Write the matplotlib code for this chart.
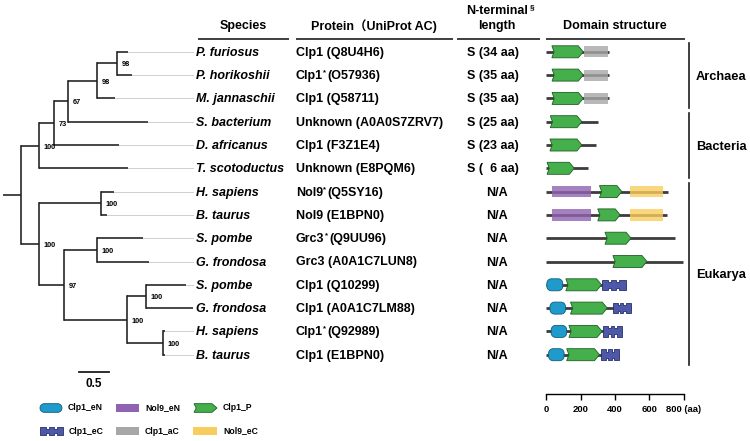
import matplotlib
matplotlib.use("Agg")
import matplotlib.pyplot as plt
from matplotlib.patches import Polygon
import numpy as np

plt.rcParams['font.family'] = ['Liberation Sans', 'DejaVu Sans']
plt.rcParams['font.weight'] = 'bold'

W, H = 750, 441

# ---------------- data ----------------
species = ["P. furiosus", "P. horikoshii", "M. jannaschii", "S. bacterium",
           "D. africanus", "T. scotoductus", "H. sapiens", "B. taurus",
           "S. pombe", "G. frondosa", "S. pombe", "G. frondosa",
           "H. sapiens", "B. taurus"]
protein_names = ["Clp1", "Clp1", "Clp1", "Unknown", "Clp1", "Unknown", "Nol9",
                 "Nol9", "Grc3", "Grc3", "Clp1", "Clp1", "Clp1", "Clp1"]
protein_acs = ["Q8U4H6", "O57936", "Q58711", "A0A0S7ZRV7", "F3Z1E4", "E8PQM6",
               "Q5SY16", "E1BPN0", "Q9UU96", "A0A1C7LUN8", "Q10299",
               "A0A1C7LM88", "Q92989", "E1BPN0"]
protein_star = [False, True, False, False, False, False, True, False, True,
                False, False, False, True, False]
nterm_len = ["S (34 aa)", "S (35 aa)", "S (35 aa)", "S (25 aa)", "S (23 aa)",
             "S (  6 aa)", "N/A", "N/A", "N/A", "N/A", "N/A", "N/A", "N/A", "N/A"]

protein_len = [365, 365, 365, 303, 290, 245, 710, 700, 745, 795, 463, 490, 440, 425]

dom_row = [0, 0, 1, 1, 2, 2, 3, 4, 5,
           6, 6, 6, 7, 7, 7, 8, 9,
           10, 10, 10, 11, 11, 11, 12, 12, 12, 13, 13, 13]
dom_type = ["P", "aC", "P", "aC", "P", "aC", "P", "P", "P",
            "Nol9_eN", "P", "Nol9_eC", "Nol9_eN", "P", "Nol9_eC", "P", "P",
            "eN", "P", "eC", "eN", "P", "eC", "eN", "P", "eC", "eN", "P", "eC"]
dom_start = [34, 220, 35, 220, 35, 220, 25, 23, 6,
             35, 310, 485, 35, 300, 485, 342, 388,
             5, 115, 325, 23, 142, 388, 30, 133, 330, 15, 120, 318]
dom_end = [216, 360, 216, 360, 216, 360, 208, 208, 164,
           260, 440, 680, 260, 430, 680, 493, 585,
           97, 322, 463, 113, 355, 490, 120, 325, 440, 105, 310, 425]

# tree: (name, branch length, bootstrap, children); ints are leaf rows
leaf_branch = [0.183, 0.25, 0.30, 1.333, 1.083, 1.483, 0.217, 0.10,
               0.767, 0.867, 0.667, 0.783, 0.033, 0.033]
tree = ('root', 0.30, None, [
    ('arch_bact', 0.30, 100, [
        ('n73', 0.25, 73, [
            ('n67', 0.233, 67, [
                ('n98b', 0.483, 98, [
                    ('n98a', 0.333, 98, [0, 1]),
                    2]),
                3]),
            4]),
        5]),
    ('euk', 0.30, 100, [
        ('nol9', 1.033, 100, [6, 7]),
        ('grc3_clp1', 0.417, 97, [
            ('grc3', 0.55, 100, [8, 9]),
            ('clp1', 1.05, 100, [
                ('fungi', 0.317, 100, [10, 11]),
                ('mammal', 0.60, 100, [12, 13])])])])])

groups = ["Archaea", "Bacteria", "Eukarya"]
group_rows = [(0, 2), (3, 5), (6, 13)]

scale_len = 0.5
domain_ticks = [0, 200, 400, 600, 800]
domain_ticklabels = ["0", "200", "400", "600", "800 (aa)"]

# ---------------- layout helpers ----------------
ROW0, STEP = 51.8, 23.3
def row_px(r):
    return ROW0 + STEP * r

def px_to_row(y):
    return (y - ROW0) / STEP

fig = plt.figure(figsize=(W / 100, H / 100), dpi=100)
base = fig.add_axes([0, 0, 1, 1])
base.set_xlim(0, W)
base.set_ylim(H, 0)
base.axis('off')

top_px, bot_px = 40, 394
ylim_rows = (px_to_row(bot_px), px_to_row(top_px))

def sub_axes(x0, x1):
    a = fig.add_axes([x0 / W, (H - bot_px) / H, (x1 - x0) / W, (bot_px - top_px) / H])
    a.patch.set_alpha(0)
    a.set_ylim(*ylim_rows)
    return a

# ---------------- tree ----------------
PX_PER_UNIT = 60.0
axt = sub_axes(3, 195)
axt.set_xlim(0, 192 / PX_PER_UNIT)
axt.axis('off')
tree_col = '#1e1e1e'
tree_lw = 1.15
ext_x = (193 - 3) / PX_PER_UNIT

def draw_node(node, xp):
    if isinstance(node, int):
        xe = xp + leaf_branch[node]
        axt.plot([xp, xe], [node, node], color=tree_col, lw=tree_lw, solid_capstyle='butt')
        axt.plot([xe, ext_x], [node, node], color='#cfcfcf', lw=0.7, zorder=0)
        return node
    name, bl, boot, children = node
    x = xp + bl
    ys = [draw_node(c, x) for c in children]
    y = (min(ys) + max(ys)) / 2
    axt.plot([xp, x], [y, y], color=tree_col, lw=tree_lw, solid_capstyle='butt')
    axt.plot([x, x], [min(ys), max(ys)], color=tree_col, lw=tree_lw, solid_capstyle='projecting')
    if boot is not None:
        axt.text(x + 4.5 / PX_PER_UNIT, y + 1.5 / STEP, str(boot), fontsize=5.3,
                 ha='left', va='center')
    return y

name, bl, boot, children = tree
ys = [draw_node(c, bl) for c in children]
yr = (min(ys) + max(ys)) / 2
axt.plot([0, bl], [yr, yr], color=tree_col, lw=tree_lw, solid_capstyle='butt')
axt.plot([bl, bl], [min(ys), max(ys)], color=tree_col, lw=tree_lw, solid_capstyle='projecting')

# scale bar
sb_x0 = (79 - 3) / PX_PER_UNIT
axt.plot([sb_x0, sb_x0 + scale_len], [px_to_row(372)] * 2, color=tree_col, lw=1.3)
axt.text(sb_x0 + scale_len / 2, px_to_row(384), str(scale_len), fontsize=8.5,
         ha='center', va='center')

# ---------------- table text ----------------
FS = 9
for i in range(len(species)):
    y = row_px(i) + 1
    base.text(196, y, species[i], fontsize=FS, style='italic', ha='left', va='center')
    if protein_star[i]:
        t1 = base.text(296, y, protein_names[i], fontsize=FS, ha='left', va='center')
        st = base.annotate('*', xy=(1, 1), xycoords=t1, xytext=(0.2, 0.5),
                           textcoords='offset points', fontsize=5.5, ha='left', va='top')
        base.annotate('(' + protein_acs[i] + ')', xy=(1, 0), xycoords=(st, t1),
                      xytext=(0.8, 0), textcoords='offset points',
                      fontsize=FS, ha='left', va='bottom')
    else:
        base.text(296, y, protein_names[i] + ' (' + protein_acs[i] + ')',
                  fontsize=FS, ha='left', va='center')
    if nterm_len[i] == 'N/A':
        base.text(497, y, nterm_len[i], fontsize=FS, ha='center', va='center')
    else:
        base.text(467, y, nterm_len[i], fontsize=FS, ha='left', va='center')

# headers
hy = 26
base.text(243, hy, 'Species', fontsize=FS, ha='center', va='center')
base.text(374, hy, 'Protein（UniProt AC)', fontsize=FS, ha='center', va='center',
          family=['Liberation Sans', 'Noto Sans CJK SC'])
tn = base.text(497, 11, 'N-terminal', fontsize=FS, ha='center', va='center')
base.annotate('§', xy=(1, 1), xycoords=tn, xytext=(1, 0.5), textcoords='offset points',
              fontsize=6, ha='left', va='top')
base.text(497, hy, 'length', fontsize=FS, ha='center', va='center')
base.text(615, hy, 'Domain structure', fontsize=FS, ha='center', va='center')
for x0, x1 in [(198, 289), (296, 453), (457, 540), (546, 685)]:
    base.plot([x0, x1], [39, 39], color='#1e1e1e', lw=1.2, solid_capstyle='butt')

# group brackets
for g, (r0, r1) in zip(groups, group_rows):
    y0 = row_px(r0) - 9
    y1 = row_px(r1) + 10
    base.plot([689, 689], [y0, y1], color='#1e1e1e', lw=1.2)
    base.text(696, (y0 + y1) / 2 + 1, g, fontsize=9.3, ha='left', va='center')

# ---------------- domain shapes ----------------
colors = {'P': ('#45b04b', '#1d5e22'), 'eN': ('#1f9bcb', '#0e5c7c'),
          'eC': ('#4d58a8', '#262f6c'), 'Nol9_eN': ('#8f63b0', None),
          'aC': ('#a7a7a7', None), 'Nol9_eC': ('#f9cd5d', None)}

def shape_points(kind, x0, x1, yc, h_px, sx, sy):
    w = (x1 - x0) / sx
    hh = h_px / 2
    if kind == 'P':
        tip = min(5.0, w * 0.3)
        notch = 2.2
        pts = [(0, -hh), (w - tip, -hh), (w, 0), (w - tip, hh), (0, hh), (notch, 0)]
    elif kind == 'eN':
        r = min(hh, 4.5)
        pts = []
        for cx, cy, a0 in [(w - r, -hh + r, -90), (w - r, hh - r, 0),
                           (r, hh - r, 90), (r, -hh + r, 180)]:
            for a in np.linspace(a0, a0 + 90, 8):
                pts.append((cx + r * np.cos(np.radians(a)), cy + r * np.sin(np.radians(a))))
    elif kind == 'eC':
        d = 2.2
        seg = w / 3.0
        nw = min(3.0, seg * 0.4)
        cuts = [seg, 2 * seg]
        top = [(0, -hh)]
        for c in cuts:
            top += [(c - nw / 2, -hh), (c - nw / 2, -hh + d), (c + nw / 2, -hh + d), (c + nw / 2, -hh)]
        top += [(w, -hh)]
        bot = [(w, hh)]
        for c in cuts[::-1]:
            bot += [(c + nw / 2, hh), (c + nw / 2, hh - d), (c - nw / 2, hh - d), (c - nw / 2, hh)]
        bot += [(0, hh)]
        pts = top + bot
    else:
        pts = [(0, -hh), (w, -hh), (w, hh), (0, hh)]
    return [(x0 + u * sx, yc + v * sy) for u, v in pts]

heights = {'P': 12, 'eN': 12, 'eC': 10.5, 'Nol9_eN': 11.5, 'aC': 11, 'Nol9_eC': 11.5}

def draw_shape(ax, kind, x0, x1, yc, sx, sy, h_scale=1.0, solid=False):
    face, edge = colors[kind]
    pts = shape_points(kind, x0, x1, yc, heights[kind] * h_scale, sx, sy)
    if edge is None:
        p = Polygon(pts, closed=True, facecolor=face, edgecolor='none',
                    alpha=1.0 if solid else 0.8, zorder=2)
    else:
        p = Polygon(pts, closed=True, facecolor=face, edgecolor=edge, lw=0.6, zorder=3)
    p.set_clip_on(False)
    ax.add_patch(p)

axd = sub_axes(546, 684)
axd.set_xlim(0, 800)
sx = 800 / 138.0
sy = 1 / STEP
for i, L in enumerate(protein_len):
    axd.plot([0, L], [i, i], color='#3c3c3c', lw=2.0, zorder=1, solid_capstyle='butt',
             clip_on=False)
for r, k, s, e in zip(dom_row, dom_type, dom_start, dom_end):
    draw_shape(axd, k, s, e, r, sx, sy)

for sp in ['top', 'right', 'left']:
    axd.spines[sp].set_visible(False)
axd.spines['bottom'].set_linewidth(1.0)
axd.set_yticks([])
axd.set_xticks(domain_ticks)
axd.set_xticklabels(domain_ticklabels)
axd.tick_params(axis='x', direction='out', length=4, width=1.0, labelsize=6.8, pad=4)

# ---------------- legend ----------------
legend_items = [('eN', 'Clp1_eN', 40, 62, 408), ('Nol9_eN', 'Nol9_eN', 116, 139, 408),
                ('P', 'Clp1_P', 194, 217, 408), ('eC', 'Clp1_eC', 40, 63, 431),
                ('aC', 'Clp1_aC', 116, 139, 431), ('Nol9_eC', 'Nol9_eC', 193, 217, 431)]
for kind, label, x0, x1, y in legend_items:
    draw_shape(base, kind, x0, x1, y, 1.0, 1.0, h_scale=0.72, solid=True)
    base.text(x1 + 6, y, label, fontsize=6.2, ha='left', va='center')

fig.savefig('out.png', dpi=100)
